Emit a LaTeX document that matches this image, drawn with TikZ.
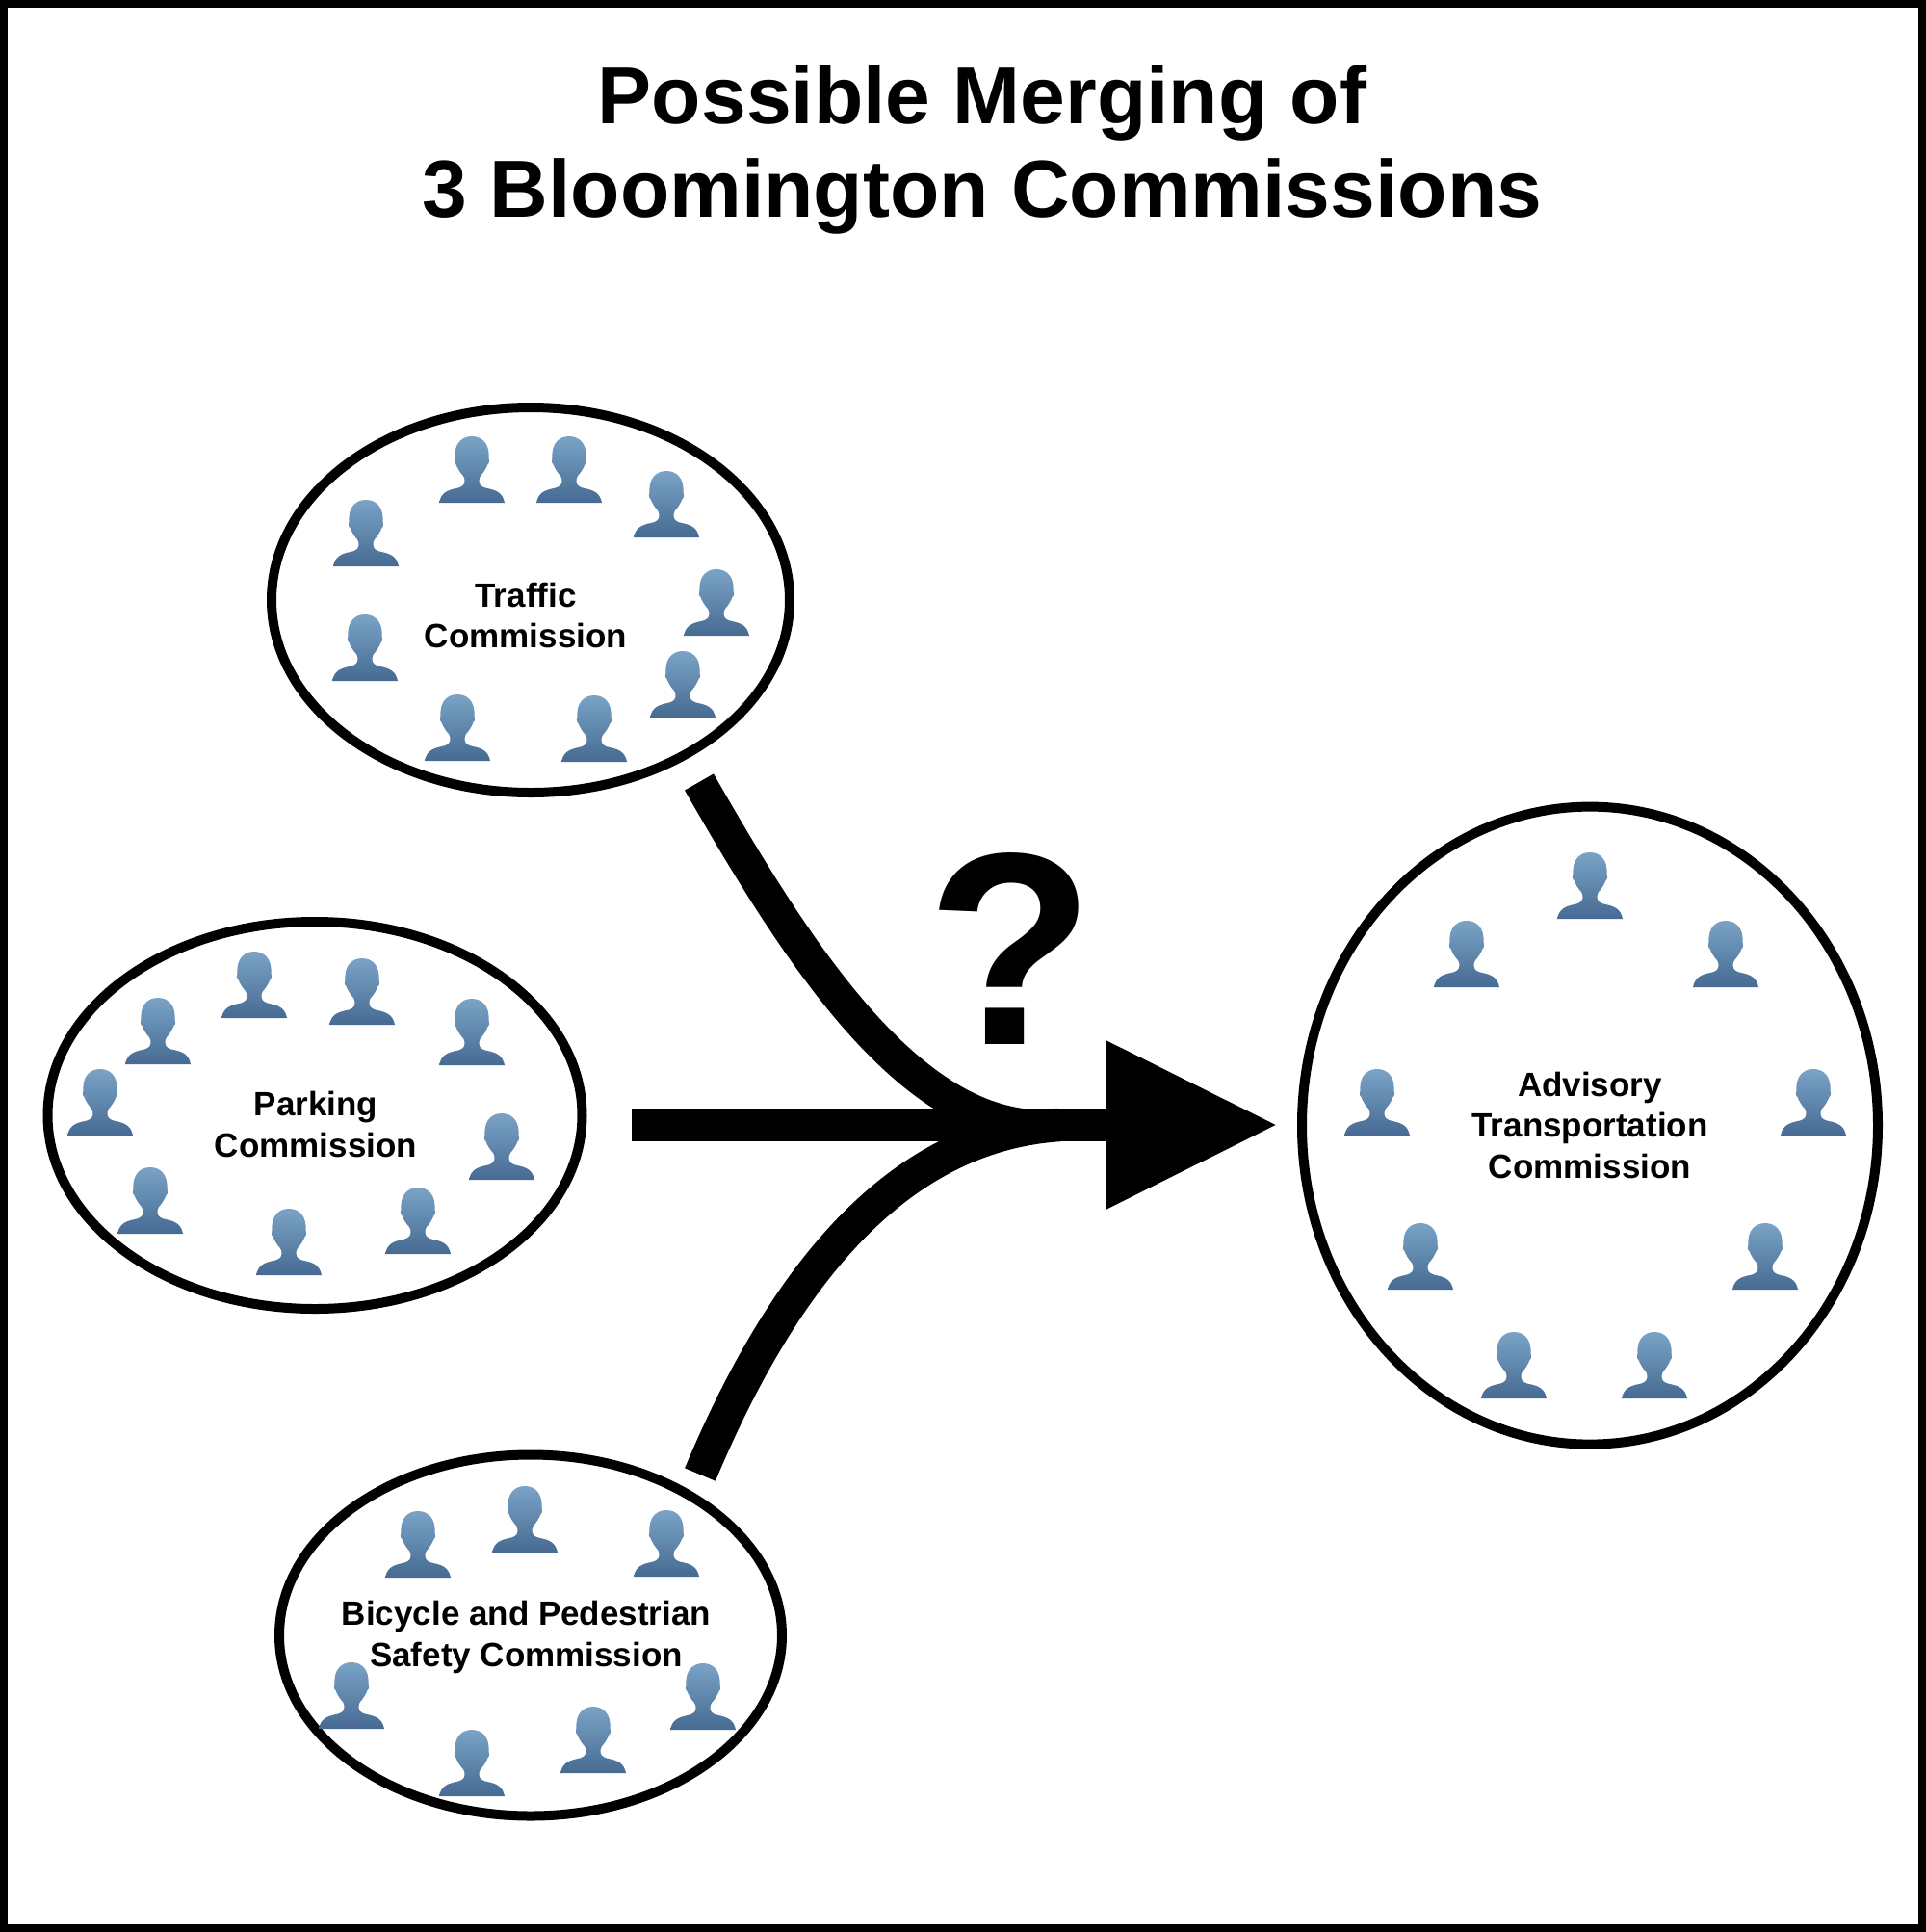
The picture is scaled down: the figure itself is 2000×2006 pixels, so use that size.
\documentclass[tikz,border=0pt]{standalone}
\usepackage{fontspec}
\setmainfont{Liberation Sans}
\usetikzlibrary{shapes.geometric,arrows.meta}
\definecolor{headtop}{RGB}{122,163,198}
\definecolor{bodybot}{RGB}{70,106,146}
\tikzset{
  commission/.style={ellipse,draw=black,line width=10pt,fill=none,inner sep=0pt,outer sep=0pt},
  label/.style={align=center,font=\bfseries\fontsize{35}{42.5}\selectfont,text=black},
  flow/.style={line width=34.5pt,draw=black,line cap=butt},
  person/.pic={
    \path[top color=headtop,bottom color=bodybot,draw=none]
      (-34,0) .. controls (-32,-10) and (-26,-13) .. (-16,-15)
      .. controls (-9,-16.5) and (-7.5,-19) .. (-7.5,-23)
      .. controls (-7.5,-25) and (-8,-26.5) .. (-9,-28)
      .. controls (-12,-31) and (-15,-36) .. (-16.5,-40)
      .. controls (-18.5,-41) and (-18.5,-45) .. (-17.5,-47)
      .. controls (-18.5,-62) and (-10,-69) .. (0,-69)
      .. controls (10,-69) and (18.5,-62) .. (17.5,-47)
      .. controls (18.5,-45) and (18.5,-41) .. (16.5,-40)
      .. controls (15,-36) and (12,-31) .. (9,-28)
      .. controls (8,-26.5) and (7.5,-25) .. (7.5,-23)
      .. controls (7.5,-19) and (9,-16.5) .. (16,-15)
      .. controls (26,-13) and (32,-10) .. (34,0) -- cycle;
  }
}
\begin{document}
\begin{tikzpicture}[x=1pt,y=-1pt]
\useasboundingbox (0,0) rectangle (2000,2006);
\fill[white] (0,0) rectangle (2000,2006);
\draw[black,line width=8pt] (4,4) rectangle (1996,2002);

\node[font=\bfseries\fontsize{84}{97}\selectfont,align=center] (title) at (1020,155) {Possible Merging of\\3 Bloomington Commissions};

\node[commission,minimum width=538pt,minimum height=400pt] (traffic) at (551,623) {};
\node[commission,minimum width=555pt,minimum height=402pt] (parking) at (327,1158) {};
\node[commission,minimum width=522pt,minimum height=375pt] (bicycle) at (551,1698) {};
\node[commission,minimum width=598pt,minimum height=662pt] (advisory) at (1651,1168.6) {};

\node[label] (ltraffic) at (546,639) {Traffic\\Commission};
\node[label] (lparking) at (328,1167.5) {Parking\\Commission};
\node[label] (lbicycle) at (546.5,1700) {Bicycle and Pedestrian\\Safety Commission};
\node[label] (ladvisory) at (1651,1168) {Advisory\\Transportation\\Commission};

\foreach \px/\py in {380/588,490/522,591/522,692/558,744/660,709/745,617/791,475/790,379/707,
  164/1105,264/1057,376/1064,490/1106,521/1225,434/1302,300/1324,156/1281,104/1179,
  434/1638,545/1612,692/1637,730/1796,616/1841,490/1865,365/1795,
  1651/954,1792/1025,1883/1179,1833/1339,1718/1452,1572/1452,1475/1339,1430/1179,1523/1025}
  \pic at (\px,\py) {person};

\coordinate (tstart) at (726,812);
\coordinate (pstart) at (656,1168);
\coordinate (bstart) at (727,1531);
\coordinate (mergetop) at (1060,1168);
\coordinate (mergebot) at (1100,1168);
\coordinate (tip) at (1327,1168);

\draw[flow] (tstart) .. controls (821,978) and (930,1150) .. (mergetop);
\draw[flow] (bstart) .. controls (805,1345) and (920,1180) .. (mergebot);
\draw[flow] (pstart) -- (mergebot);
\draw[flow,-{Triangle[length=179pt,width=166pt]}] (mergebot) -- (tip);

\node[font=\bfseries\fontsize{285}{285}\selectfont,inner sep=0pt] (qmark) at (1050,985) {?};
\end{tikzpicture}
\end{document}
